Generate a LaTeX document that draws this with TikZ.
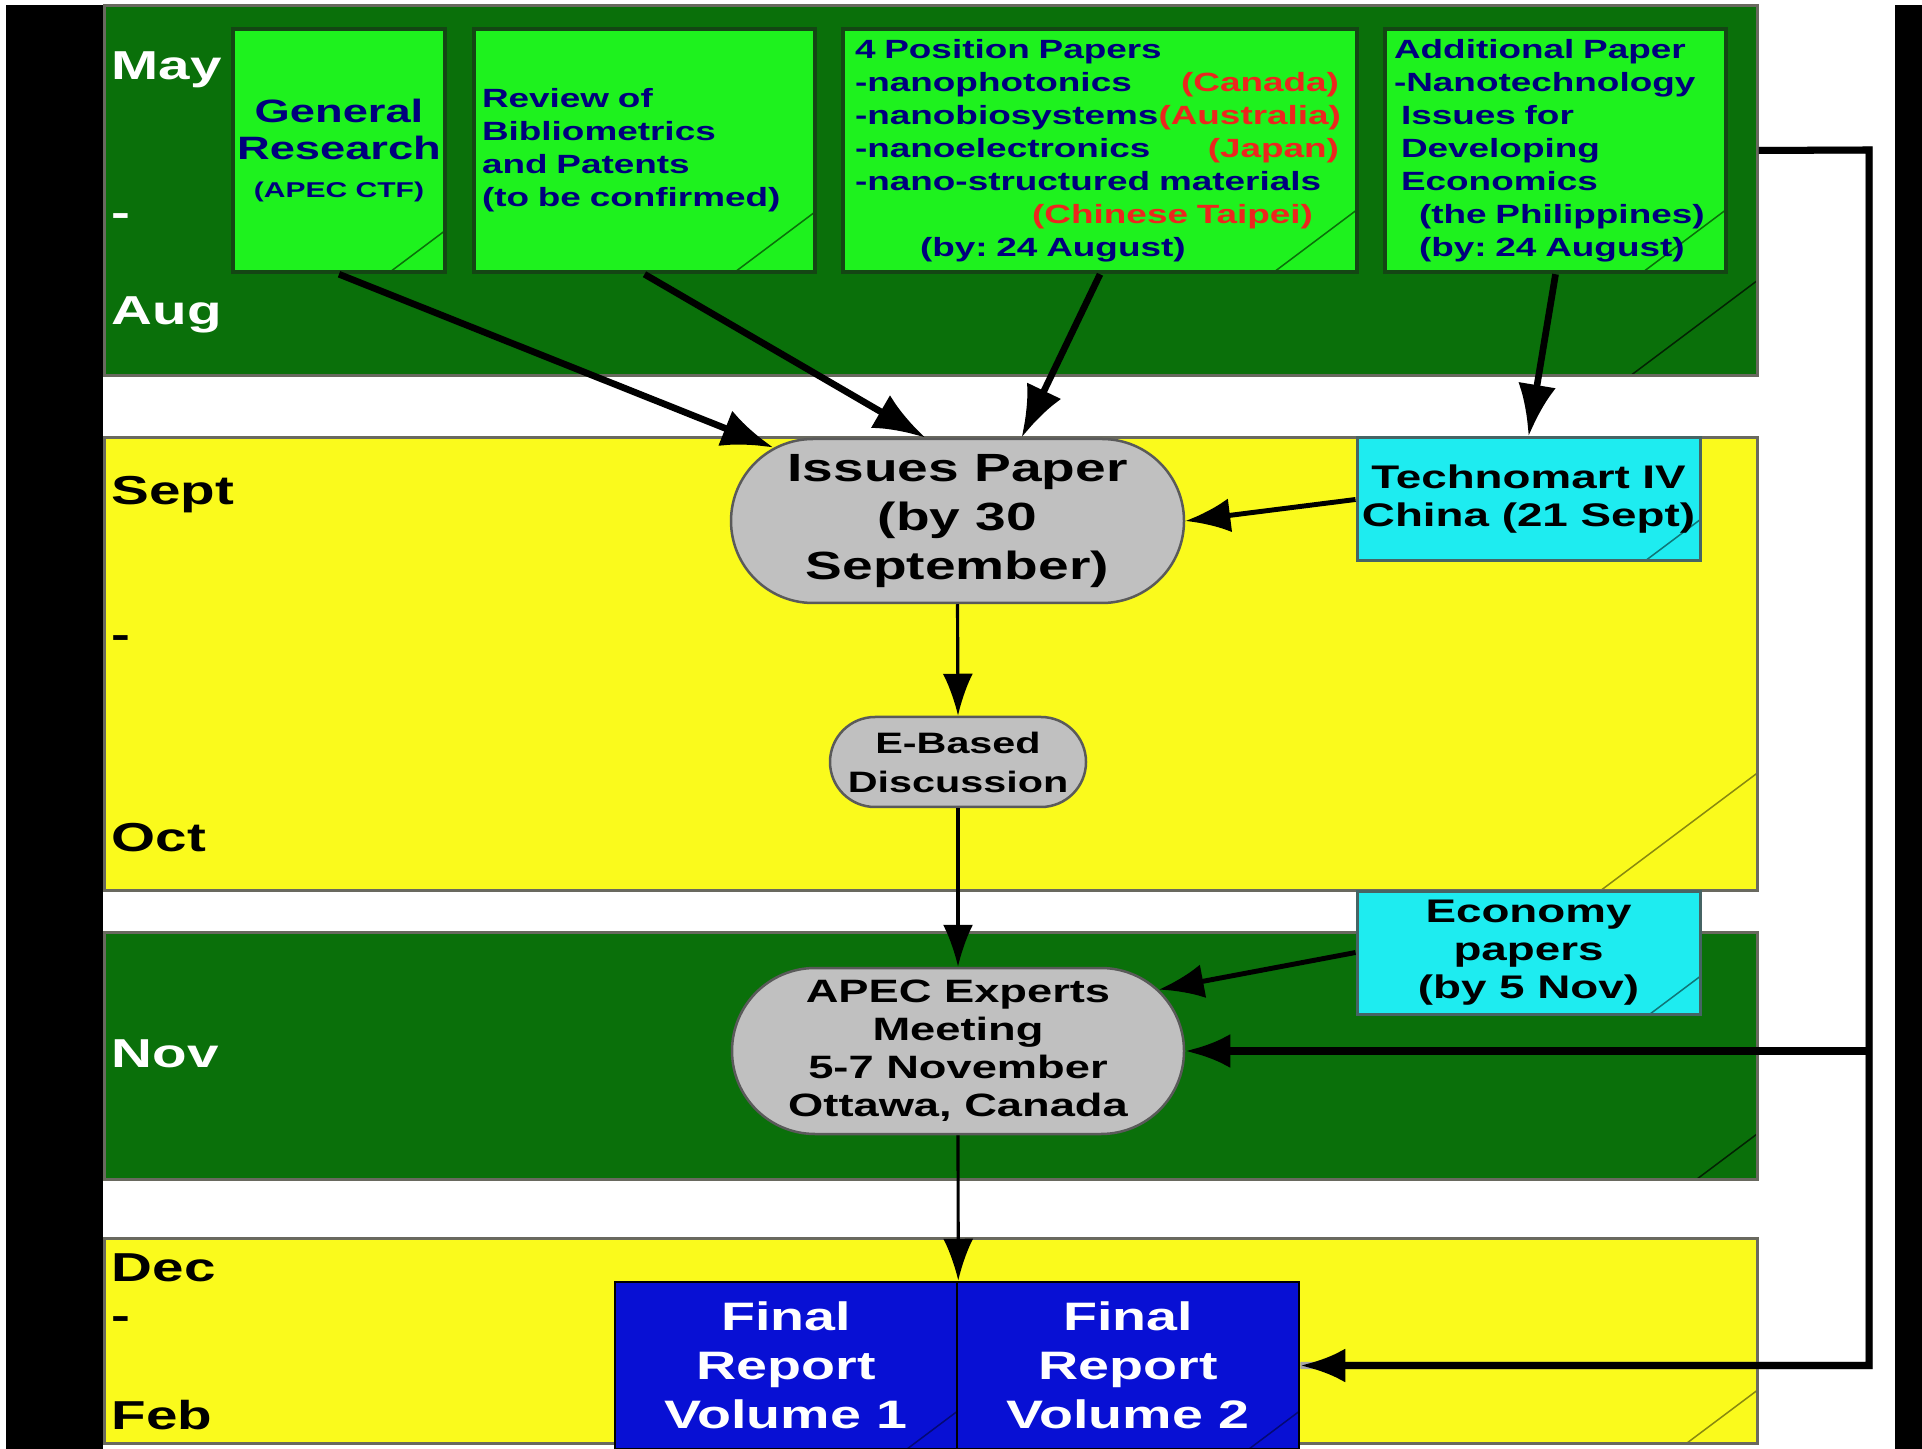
\documentclass[tikz,border=0pt]{standalone}
\usepackage{fontspec}
\setmainfont{Liberation Sans}[FakeStretch=1.4]
\usepackage{tikz}
\usetikzlibrary{shapes.misc,arrows.meta}
\frenchspacing

\definecolor{darkband}{RGB}{10,112,10}
\definecolor{lightgreen}{RGB}{30,242,30}
\definecolor{yellowband}{RGB}{250,250,28}
\definecolor{cyanbox}{RGB}{30,236,240}
\definecolor{bluebox}{RGB}{8,16,212}
\definecolor{grayoval}{RGB}{192,192,192}
\definecolor{navytext}{RGB}{0,0,125}
\definecolor{redtext}{RGB}{236,38,30}

\tikzset{
  dogear/.style 2 args={path picture={\draw[#2, line width=0.15mm] ([xshift=-#1]path picture bounding box.south east) -- ([yshift=0.75*#1]path picture bounding box.south east);}},
  band/.style={rectangle, draw={rgb,255:red,105;green,105;blue,95}, line width=0.3mm, minimum width=165.3mm, inner sep=0},
  month/.style={anchor=base west, inner sep=0, font=\bfseries\fontsize{11.5}{14}\selectfont},
  topbox/.style={rectangle, draw={rgb,255:red,20;green,70;blue,20}, line width=0.45mm, fill=lightgreen, text=navytext, minimum height=24.3mm, inner sep=0, font=\bfseries\fontsize{7.5}{9.4}\selectfont},
  meet/.style={rounded rectangle, draw={rgb,255:red,90;green,90;blue,90}, line width=0.25mm, fill=grayoval, align=center, inner sep=0},
  datebox/.style={rectangle, draw={rgb,255:red,70;green,100;blue,100}, line width=0.3mm, fill=cyanbox, align=center, inner sep=0, minimum width=34.3mm, minimum height=12.3mm, font=\bfseries\fontsize{9.3}{10.8}\selectfont},
  final/.style={rectangle, draw=black, line width=0.25mm, fill=bluebox, text=white, align=center, inner sep=0, minimum width=34.2mm, minimum height=16.7mm, font=\bfseries\fontsize{11.3}{13.9}\selectfont, dogear={5mm}{bluebox!55!black}},
  thickarrow/.style={line width=1.9pt, -{Latex[length=5.2mm,width=3.8mm]}},
  midarrow/.style={line width=1.4pt, -{Latex[length=4.5mm,width=3.4mm]}},
  thinarrow/.style={line width=0.9pt, -{Latex[length=4.2mm,width=3mm]}},
  loopline/.style={line width=2pt}
}

\begin{document}
\begin{tikzpicture}[x=0.1mm,y=-0.1mm]
  \useasboundingbox (0,0) rectangle (1922,1449);
  \fill[white] (0,0) rectangle (1922,1449);
  \fill[black] (6,5) rectangle (103,1449);
  \fill[black] (1895,5) rectangle (1922,1449);

  \node[band, fill=darkband, minimum height=37mm, dogear={12.7mm}{black!70!darkband}] (bmay) at (930.5,191) {};
  \node[band, fill=yellowband, minimum height=45.3mm, dogear={15.7mm}{yellowband!55!black}] (bsep) at (930.5,664.5) {};
  \node[band, fill=darkband, minimum height=24.7mm, dogear={6mm}{black!70!darkband}] (bnov) at (930.5,1055.5) {};
  \node[band, fill=yellowband, minimum height=20.5mm, dogear={7mm}{yellowband!55!black}] (bdec) at (930.5,1340.5) {};

  \node[month, text=white] (lmay) at (111,80) {May};
  \node[month, text=white] (lmaydash) at (111,227) {-};
  \node[month, text=white] (laug) at (111,325) {Aug};
  \node[month] (lsep) at (111,505) {Sept};
  \node[month] (lsepdash) at (111,649) {-};
  \node[month] (loct) at (111,851) {Oct};
  \node[month, text=white] (lnov) at (111,1067) {Nov};
  \node[month] (ldec) at (111,1281) {Dec};
  \node[month] (ldecdash) at (111,1329) {-};
  \node[month] (lfeb) at (111,1429) {Feb};

  \node[topbox, minimum width=21.2mm, align=center, font=\bfseries\fontsize{9.2}{10.8}\selectfont, dogear={5.5mm}{darkband}] (gen) at (339,150.5) {General\\Research\\{\fontsize{6.1}{8}\selectfont(APEC CTF)}};
  \node[topbox, minimum width=34.1mm, text width=32.5mm, align=left, dogear={8mm}{darkband}] (rev) at (644.5,150.5) {Review of\\Bibliometrics\\and Patents\\(to be confirmed)};
  \node[topbox, minimum width=51.4mm, text width=49mm, align=left, dogear={8.3mm}{darkband}] (pos) at (1100,150.5) {4 Position Papers\\
    -nanophotonics\hfill\textcolor{redtext}{(Canada)}\hspace*{0.6mm}\mbox{}\\
    -nanobiosystems\textcolor{redtext}{(Australia)}\\
    -nanoelectronics\hfill\textcolor{redtext}{(Japan)}\hspace*{0.6mm}\mbox{}\\
    -nano-structured materials\\
    \mbox{}\hfill\textcolor{redtext}{(Chinese Taipei)}\hspace*{3.2mm}\mbox{}\\
    \hspace*{6.5mm}(by: 24 August)};
  \node[topbox, minimum width=34.1mm, text width=32.3mm, align=left, dogear={8.3mm}{darkband}] (add) at (1555.5,150.5) {Additional Paper\\
    -Nanotechnology\\
    \hspace*{0.7mm}Issues for\\
    \hspace*{0.7mm}Developing\\
    \hspace*{0.7mm}Economics\\
    \hspace*{2.5mm}(the Philippines)\\
    \hspace*{2.5mm}(by: 24 August)};

  \node[meet, minimum width=45.3mm, minimum height=16.4mm, font=\bfseries\fontsize{11.2}{13.9}\selectfont] (issues) at (957.5,521) {Issues Paper\\(by 30\\September)};
  \node[datebox, dogear={5.5mm}{cyanbox!50!black}] (techno) at (1528.5,499.5) {Technomart IV\\China (21 Sept)};
  \node[meet, minimum width=25.6mm, minimum height=9mm, font=\bfseries\fontsize{8.4}{11.1}\selectfont] (ebased) at (958,762) {E-Based\\Discussion};
  \node[meet, minimum width=45.2mm, minimum height=16.6mm, font=\bfseries\fontsize{9.2}{10.8}\selectfont] (apec) at (958,1051) {APEC Experts\\Meeting\\5-7 November\\Ottawa, Canada};
  \node[datebox, dogear={5mm}{cyanbox!50!black}] (econ) at (1528.5,952.5) {Economy\\papers\\(by 5 Nov)};
  \node[final] (vol1) at (786,1365.5) {Final\\Report\\Volume 1};
  \node[final] (vol2) at (1128,1365.5) {Final\\Report\\Volume 2};

  \draw[thickarrow] (gen.south) -- (issues);
  \draw[thickarrow] (rev.south) -- ([xshift=-3.2mm]issues.north);
  \draw[thickarrow] (pos.south) -- ([xshift=6.4mm]issues.north);
  \draw[thickarrow] (add.south) -- (techno.north);
  \draw[midarrow] (techno.west) -- (issues.east);
  \draw[thinarrow] (issues.south) -- (ebased.north);
  \draw[thinarrow] (ebased.south) -- (apec.north);
  \draw[midarrow] (econ.west) -- (apec.17);
  \draw[thinarrow] (apec.south) -- (vol1.north east);

  \coordinate (turn) at (1869,150);
  \draw[loopline, gray!70, shift={(-3,-3)}] (bmay.east |- add.east) -- (turn) -- (turn |- vol2.east) -- (vol2.east);
  \draw[loopline, -{Latex[length=4.5mm,width=3.4mm]}] (bmay.east |- add.east) -- (turn) -- (turn |- vol2.east) -- (vol2.east);
  \draw[loopline, -{Latex[length=4.5mm,width=3.4mm]}] (turn |- apec.east) -- (apec.east);
\end{tikzpicture}
\end{document}
